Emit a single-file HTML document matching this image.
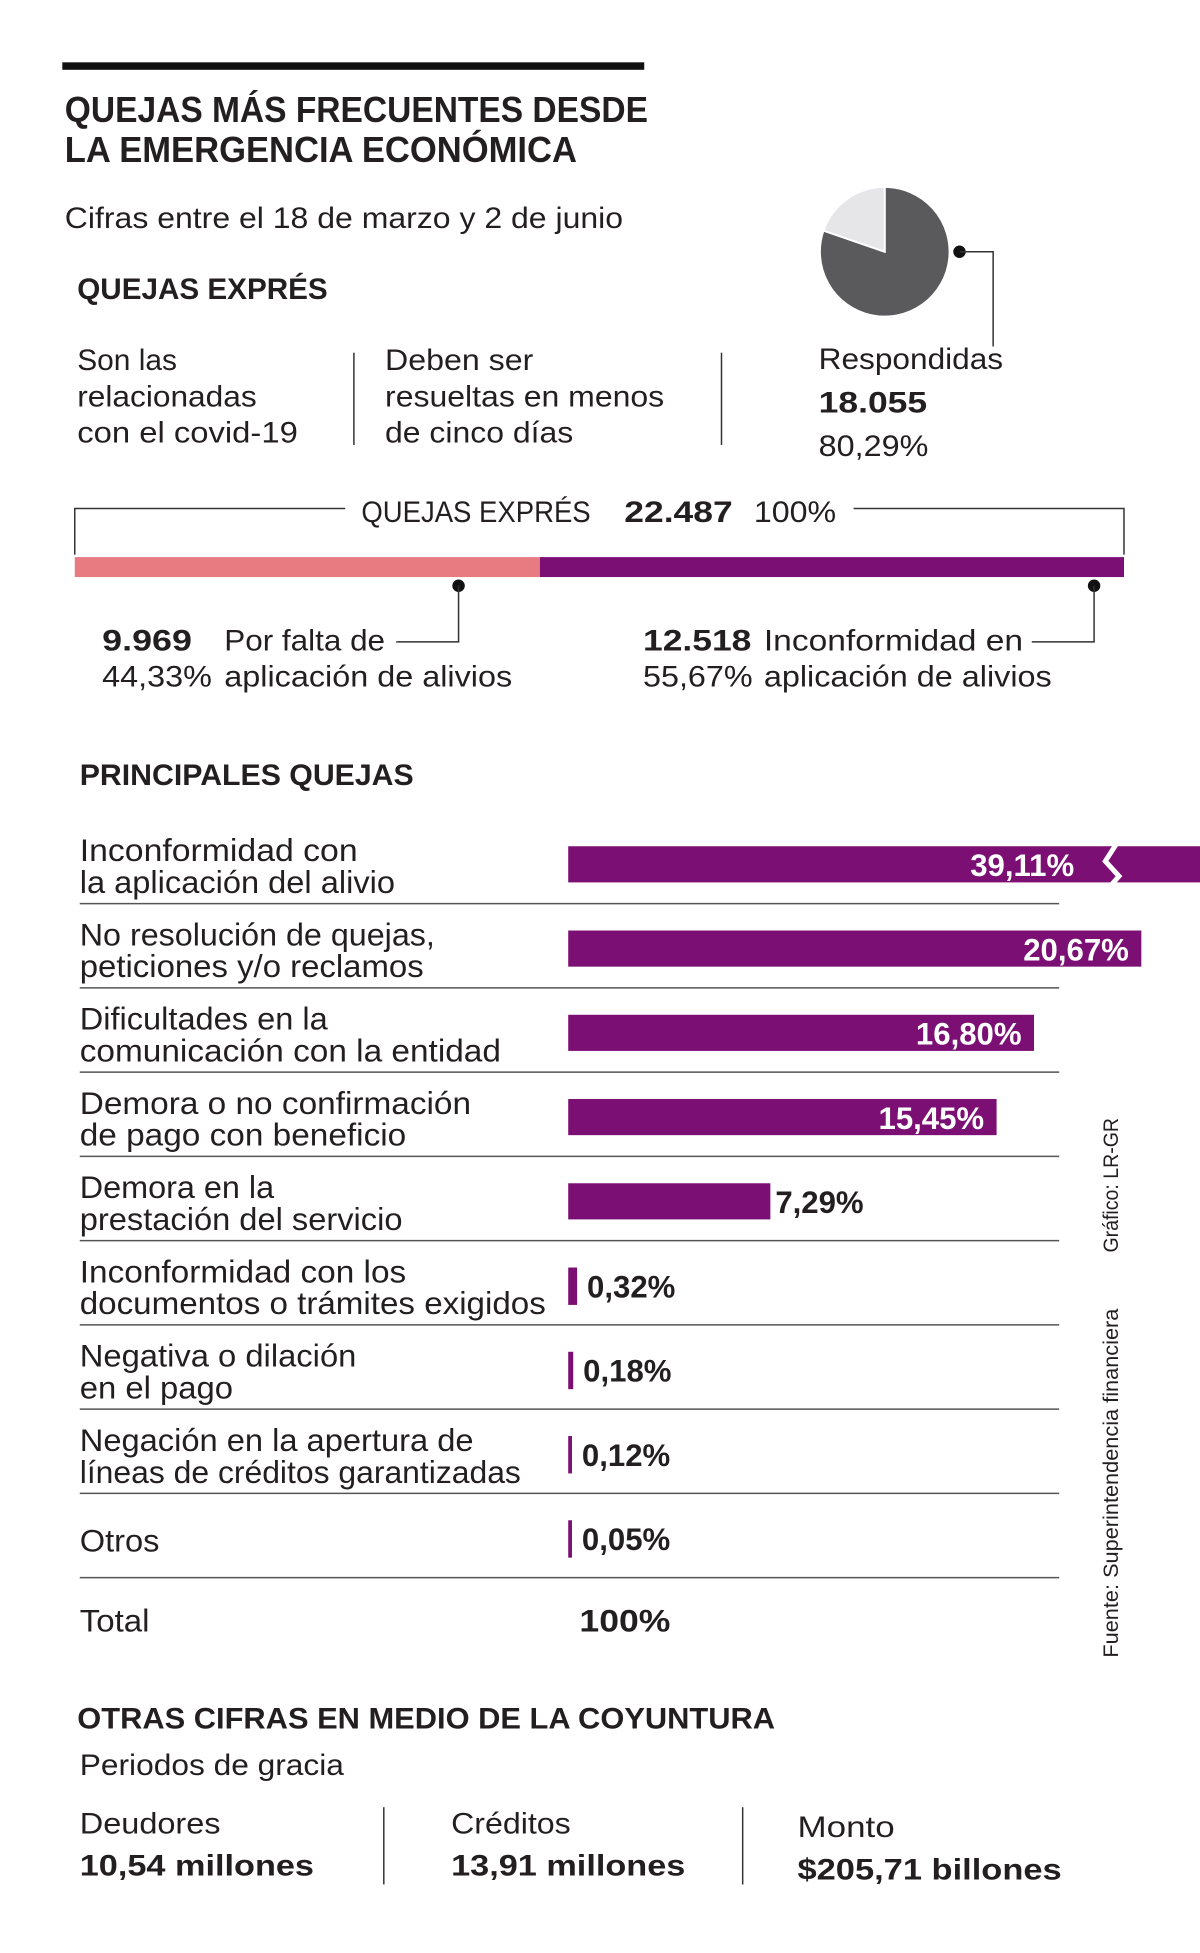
<!DOCTYPE html>
<html><head><meta charset="utf-8"><style>
html,body{margin:0;padding:0;background:#fff}
svg{display:block}
text{font-family:"Liberation Sans",sans-serif;fill:#231f20}
.b{font-weight:bold}
</style></head><body>
<svg id="g" width="1200" height="1953" viewBox="0 0 963 1567" preserveAspectRatio="none" xmlns="http://www.w3.org/2000/svg">
<rect x="50" y="50" width="467" height="6" fill="#111"/>
<text class="b" x="52" y="98" font-size="29" textLength="468" lengthAdjust="spacingAndGlyphs">QUEJAS MÁS FRECUENTES DESDE</text>
<text class="b" x="52" y="130" font-size="29" textLength="411" lengthAdjust="spacingAndGlyphs">LA EMERGENCIA ECONÓMICA</text>
<text x="52" y="183" font-size="24" textLength="448" lengthAdjust="spacingAndGlyphs">Cifras entre el 18 de marzo y 2 de junio</text>
<text class="b" x="62" y="240" font-size="24" textLength="201" lengthAdjust="spacingAndGlyphs">QUEJAS EXPRÉS</text>
<g font-size="24">
<text x="62" y="297" textLength="80" lengthAdjust="spacingAndGlyphs">Son las</text>
<text x="62" y="326" textLength="144" lengthAdjust="spacingAndGlyphs">relacionadas</text>
<text x="62" y="355" textLength="177" lengthAdjust="spacingAndGlyphs">con el covid-19</text>
</g>
<line x1="284" y1="283" x2="284" y2="357" stroke="#333" stroke-width="1.2"/>
<g font-size="24">
<text x="309" y="297" textLength="119" lengthAdjust="spacingAndGlyphs">Deben ser</text>
<text x="309" y="326" textLength="224" lengthAdjust="spacingAndGlyphs">resueltas en menos</text>
<text x="309" y="355" textLength="151" lengthAdjust="spacingAndGlyphs">de cinco días</text>
</g>
<line x1="579" y1="283" x2="579" y2="357" stroke="#333" stroke-width="1.2"/>
<g id="pie"></g>
<circle cx="770" cy="202" r="5" fill="#111"/>
<polyline points="770,202 797,202 797,278" fill="none" stroke="#333" stroke-width="1.2"/>
<text x="657" y="296" font-size="24" textLength="148" lengthAdjust="spacingAndGlyphs">Respondidas</text>
<text class="b" x="657" y="331" font-size="24" textLength="87" lengthAdjust="spacingAndGlyphs">18.055</text>
<text x="657" y="366" font-size="24" textLength="88" lengthAdjust="spacingAndGlyphs">80,29%</text>
<polyline points="60,445 60,408 277,408" fill="none" stroke="#333" stroke-width="1.2"/>
<polyline points="685,408 902,408 902,445" fill="none" stroke="#333" stroke-width="1.2"/>
<text x="290" y="419" font-size="24" textLength="184" lengthAdjust="spacingAndGlyphs">QUEJAS EXPRÉS</text>
<text class="b" x="501" y="419" font-size="24" textLength="87" lengthAdjust="spacingAndGlyphs">22.487</text>
<text x="605" y="419" font-size="24" textLength="66" lengthAdjust="spacingAndGlyphs">100%</text>
<g id="split"></g>
<circle cx="368" cy="470" r="5" fill="#111"/>
<polyline points="368,470 368,515 318,515" fill="none" stroke="#333" stroke-width="1.2"/>
<circle cx="878" cy="470" r="5" fill="#111"/>
<polyline points="878,470 878,515 828,515" fill="none" stroke="#333" stroke-width="1.2"/>
<g font-size="24">
<text class="b" x="82" y="522" textLength="72" lengthAdjust="spacingAndGlyphs">9.969</text>
<text x="180" y="522" textLength="129" lengthAdjust="spacingAndGlyphs">Por falta de</text>
<text x="82" y="551" textLength="88" lengthAdjust="spacingAndGlyphs">44,33%</text>
<text x="180" y="551" textLength="231" lengthAdjust="spacingAndGlyphs">aplicación de alivios</text>
</g>
<g font-size="24">
<text class="b" x="516" y="522" textLength="87" lengthAdjust="spacingAndGlyphs">12.518</text>
<text x="613" y="522" textLength="208" lengthAdjust="spacingAndGlyphs">Inconformidad en</text>
<text x="516" y="551" textLength="88" lengthAdjust="spacingAndGlyphs">55,67%</text>
<text x="613" y="551" textLength="231" lengthAdjust="spacingAndGlyphs">aplicación de alivios</text>
</g>
<text class="b" x="64" y="630" font-size="24" textLength="268" lengthAdjust="spacingAndGlyphs">PRINCIPALES QUEJAS</text>
<g id="bars"></g>
<text x="64" y="1309" font-size="25" textLength="56" lengthAdjust="spacingAndGlyphs">Total</text>
<text class="b" x="465" y="1309" font-size="25" textLength="73" lengthAdjust="spacingAndGlyphs">100%</text>
<text font-size="17" fill="#333" transform="translate(897,1005) rotate(-90)" textLength="108" lengthAdjust="spacingAndGlyphs">Gráfico: LR-GR</text>
<text font-size="17" fill="#333" transform="translate(897,1330) rotate(-90)" textLength="280" lengthAdjust="spacingAndGlyphs">Fuente: Superintendencia financiera</text>
<text class="b" x="62" y="1387" font-size="24" textLength="560" lengthAdjust="spacingAndGlyphs">OTRAS CIFRAS EN MEDIO DE LA COYUNTURA</text>
<text x="64" y="1424" font-size="24" textLength="212" lengthAdjust="spacingAndGlyphs">Periodos de gracia</text>
<text x="64" y="1471" font-size="24" textLength="113" lengthAdjust="spacingAndGlyphs">Deudores</text>
<text class="b" x="64" y="1505" font-size="24" textLength="188" lengthAdjust="spacingAndGlyphs">10,54 millones</text>
<line x1="308" y1="1450" x2="308" y2="1512" stroke="#333" stroke-width="1.2"/>
<text x="362" y="1471" font-size="24" textLength="96" lengthAdjust="spacingAndGlyphs">Créditos</text>
<text class="b" x="362" y="1505" font-size="24" textLength="188" lengthAdjust="spacingAndGlyphs">13,91 millones</text>
<line x1="596" y1="1450" x2="596" y2="1512" stroke="#333" stroke-width="1.2"/>
<text x="640" y="1474" font-size="24" textLength="78" lengthAdjust="spacingAndGlyphs">Monto</text>
<text class="b" x="640" y="1508" font-size="24" textLength="212" lengthAdjust="spacingAndGlyphs">$205,71 billones</text>
</svg>
<script>
const NS = "http://www.w3.org/2000/svg";
const pieValues = [80.29, 19.71];
const splitValues = [44.33, 55.67];
const categories = [
  ["Inconformidad con","la aplicación del alivio"],
  ["No resolución de quejas,","peticiones y/o reclamos"],
  ["Dificultades en la","comunicación con la entidad"],
  ["Demora o no confirmación","de pago con beneficio"],
  ["Demora en la","prestación del servicio"],
  ["Inconformidad con los","documentos o trámites exigidos"],
  ["Negativa o dilación","en el pago"],
  ["Negación en la apertura de","líneas de créditos garantizadas"],
  ["Otros"]
];
const values = [39.11, 20.67, 16.80, 15.45, 7.29, 0.32, 0.18, 0.12, 0.05];
const valueLabels = ["39,11%","20,67%","16,80%","15,45%","7,29%","0,32%","0,18%","0,12%","0,05%"];
const labelWidths = [[223,253],[285,276],[199,338],[314,262],[156,259],[262,374],[222,123],[316,354],[64]];

function mk(tag, attrs, parent){ const e=document.createElementNS(NS,tag); for(const k in attrs) e.setAttribute(k,attrs[k]); parent.appendChild(e); return e; }

// pie
(function(){
  const g=document.getElementById('pie'); const cx=710, cy=202, r=52;
  const total=pieValues[0]+pieValues[1]; let a0=0;
  const cols=['#5a5a5d','#e6e6e9'];
  pieValues.forEach((v,i)=>{
    const a1=a0+v/total*Math.PI*2;
    const p=(a)=>[cx+r*Math.sin(a), cy-r*Math.cos(a)];
    const s=p(a0), e=p(a1), large=(a1-a0)>Math.PI?1:0;
    const path=mk('path',{d:`M${cx},${cy} L${s[0]},${s[1]} A${r},${r} 0 ${large} 1 ${e[0]},${e[1]} Z`,fill:cols[i],stroke:'#fff','stroke-width':1.5},g);
    
    
    a0=a1;
  });
})();

// split bar
(function(){
  const g=document.getElementById('split'); const x0=60, x1=902;
  const tot=splitValues[0]+splitValues[1]; let x=x0; const cols=['#e87a82','#7b0f74'];
  splitValues.forEach((v,i)=>{
    const w=v/tot*(x1-x0);
    const r=mk('rect',{x:x,y:447,width:w,height:16,fill:cols[i]},g);
    
    
    x+=w;
  });
})();

// bars
(function(){
  const g=document.getElementById('bars');
  const x0=456, scale=22.25, clipX=963, rowH=67.6, top=679;
  const xs=v=>Math.max(3, v*scale);
  categories.forEach((lines,i)=>{
    const y=top+i*rowH;
    const row=mk('g',{},g);
    
    
    if(lines.length===2){
      lines.forEach((t,j)=>{
        const tx=mk('text',{x:64,y:y+12+j*25.5,'font-size':25,textLength:labelWidths[i][j],lengthAdjust:'spacingAndGlyphs'},row);
        tx.textContent=t;
        
        
      });
    } else {
      const tx=mk('text',{x:64,y:y+25,'font-size':25,textLength:labelWidths[i][0],lengthAdjust:'spacingAndGlyphs'},row);
      tx.textContent=lines[0];
      
      
    }
    let w=xs(values[i]); const broken = x0+w>clipX; if(broken) w=clipX-x0;
    const bar=mk('rect',{x:x0,y:y,width:w,height:i<5?29:30,fill:'#7b0f74'},row);
    
    
    let lx, anchor, fill;
    if(broken){
      const br=mk('polyline',{points:`${896},${y-2} ${887},${y+12} ${898},${y+24} ${891},${y+32}`,fill:'none',stroke:'#fff','stroke-width':4},row);
      
      
      lx=862; anchor='end'; fill='#fff';
    } else if(w>250){ lx=x0+w-10; anchor='end'; fill='#fff'; }
    else { lx=x0+w+(w>20?4:8); anchor='start'; fill='#231f20'; }
    const vt=mk('text',{x:lx,y:y+24,'font-size':25,'font-weight':'bold','text-anchor':anchor,fill:fill,style:'fill:'+fill},row);
    vt.textContent=valueLabels[i];
    
    
    const ln=mk('line',{x1:64,x2:850,y1:y+46,y2:y+46,stroke:'#555','stroke-width':1.2},row);
    
    
  });
})();
</script>
</body></html>
